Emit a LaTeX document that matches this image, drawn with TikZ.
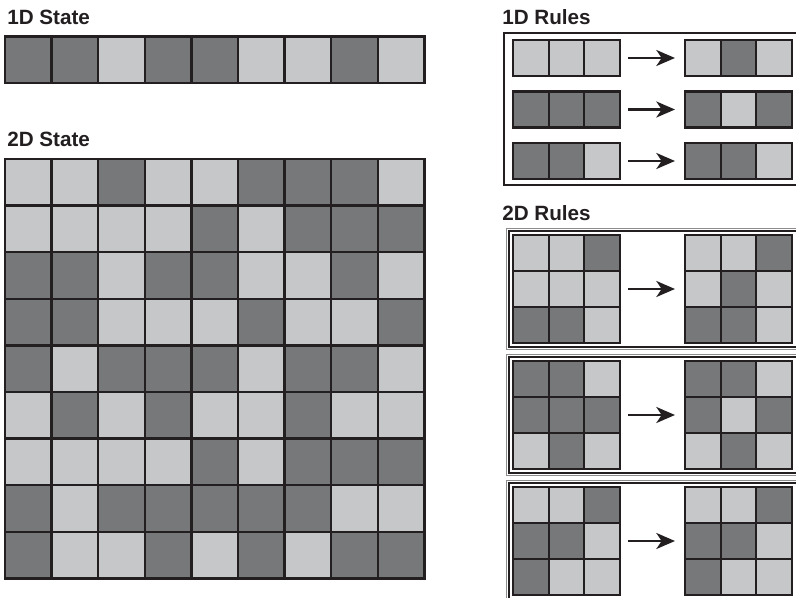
\documentclass[tikz,border=0pt]{standalone}
\usepackage{fontspec}
\setmainfont{Liberation Sans}
\usetikzlibrary{arrows.meta,positioning}
\definecolor{cellD}{HTML}{77787A}
\definecolor{cellL}{HTML}{C6C7C9}
\definecolor{ink}{HTML}{231F20}
\definecolor{rimgray}{HTML}{8C8C8E}

\begin{document}
\begin{tikzpicture}[
  x=0.75pt,y=-0.75pt,
  font=\fontsize{15.5}{18}\selectfont\bfseries,
  cell/.style={draw=ink,line width=1.8pt,minimum size=34.95pt,inner sep=0pt,outer sep=0pt},
  small/.style={cell,line width=1.6pt,minimum width=26.8pt,minimum height=27pt},
  title/.style={anchor=base west,inner sep=0pt,text=ink},
  frame/.style={draw=ink,line width=1.6pt},
  rim/.style={draw=rimgray,line width=0.6pt},
  arr/.style={-{Stealth[length=14pt,width=12pt,inset=4pt]},line width=1.7pt,draw=ink,shorten <=6pt,shorten >=7.5pt},
]
\useasboundingbox (0,0) rectangle (796,598);
% titles
\node[title] (t1) at (7,25) {1D State};
\node[title] (t2) at (7,147) {2D State};
\node[title] (t3) at (502,25) {1D Rules};
\node[title] (t4) at (502,221) {2D Rules};
% 1D state
\foreach \c [count=\i] in {D,D,L,D,D,L,L,D,L}
  \node[cell,fill=cell\c] (s-\i) at ({5+46.6*(\i-0.5)},60) {};
% 2D state
\foreach \row [count=\j] in {{L,L,D,L,L,D,D,D,L},{L,L,L,L,D,L,D,D,D},{D,D,L,D,D,L,L,D,L},
    {D,D,L,L,L,D,L,L,D},{D,L,D,D,D,L,D,D,L},{L,D,L,D,L,L,D,L,L},
    {L,L,L,L,D,L,D,D,D},{D,L,D,D,D,D,D,L,L},{D,L,L,D,L,D,L,D,D}}
  \foreach \c [count=\i] in \row
    \node[cell,fill=cell\c] (g-\j-\i) at ({5+46.6*(\i-0.5)},{159+46.6*(\j-0.5)}) {};
% 1D rules
\draw[frame] (504,33) rectangle (820,185);
\foreach \pat [count=\j] in {{L,L,L,L,D,L},{D,D,D,D,L,D},{D,D,L,D,D,L}} {
  \foreach \c [count=\i] in \pat
    \node[small,fill=cell\c] (o\j-\i) at ({513+35.7*(\i-0.5)+(\i>3)*64.9},{58+51.5*(\j-1)}) {};
  \draw[arr] (o\j-3.east) -- (o\j-4.west);
}
% 2D rules
\foreach \pa/\pb [count=\k] in {{L,L,D,L,L,L,D,D,L}/{L,L,D,L,D,L,D,D,L},
    {D,D,L,D,D,D,L,D,L}/{D,D,L,D,L,D,L,D,L},
    {L,L,D,D,D,L,D,L,L}/{L,L,D,D,D,L,D,L,L}} {
  \pgfmathsetmacro\top{235+126*(\k-1)}
  \draw[rim] (506,\top-6.5) rectangle (820,\top+114.5);
  \draw[frame] (509,\top-4) rectangle (820,\top+112);
  \foreach \c [count=\i] in \pa
    \node[small,fill=cell\c] (p\k-\i) at ({513+35.7*(mod(\i-1,3)+0.5)},{\top+36*(floor((\i-1)/3)+0.5)}) {};
  \foreach \c [count=\i] in \pb
    \node[small,fill=cell\c] (q\k-\i) at ({685+35.7*(mod(\i-1,3)+0.5)},{\top+36*(floor((\i-1)/3)+0.5)}) {};
  \draw[arr] (p\k-6.east) -- (q\k-4.west);
}
\end{tikzpicture}
\end{document}
